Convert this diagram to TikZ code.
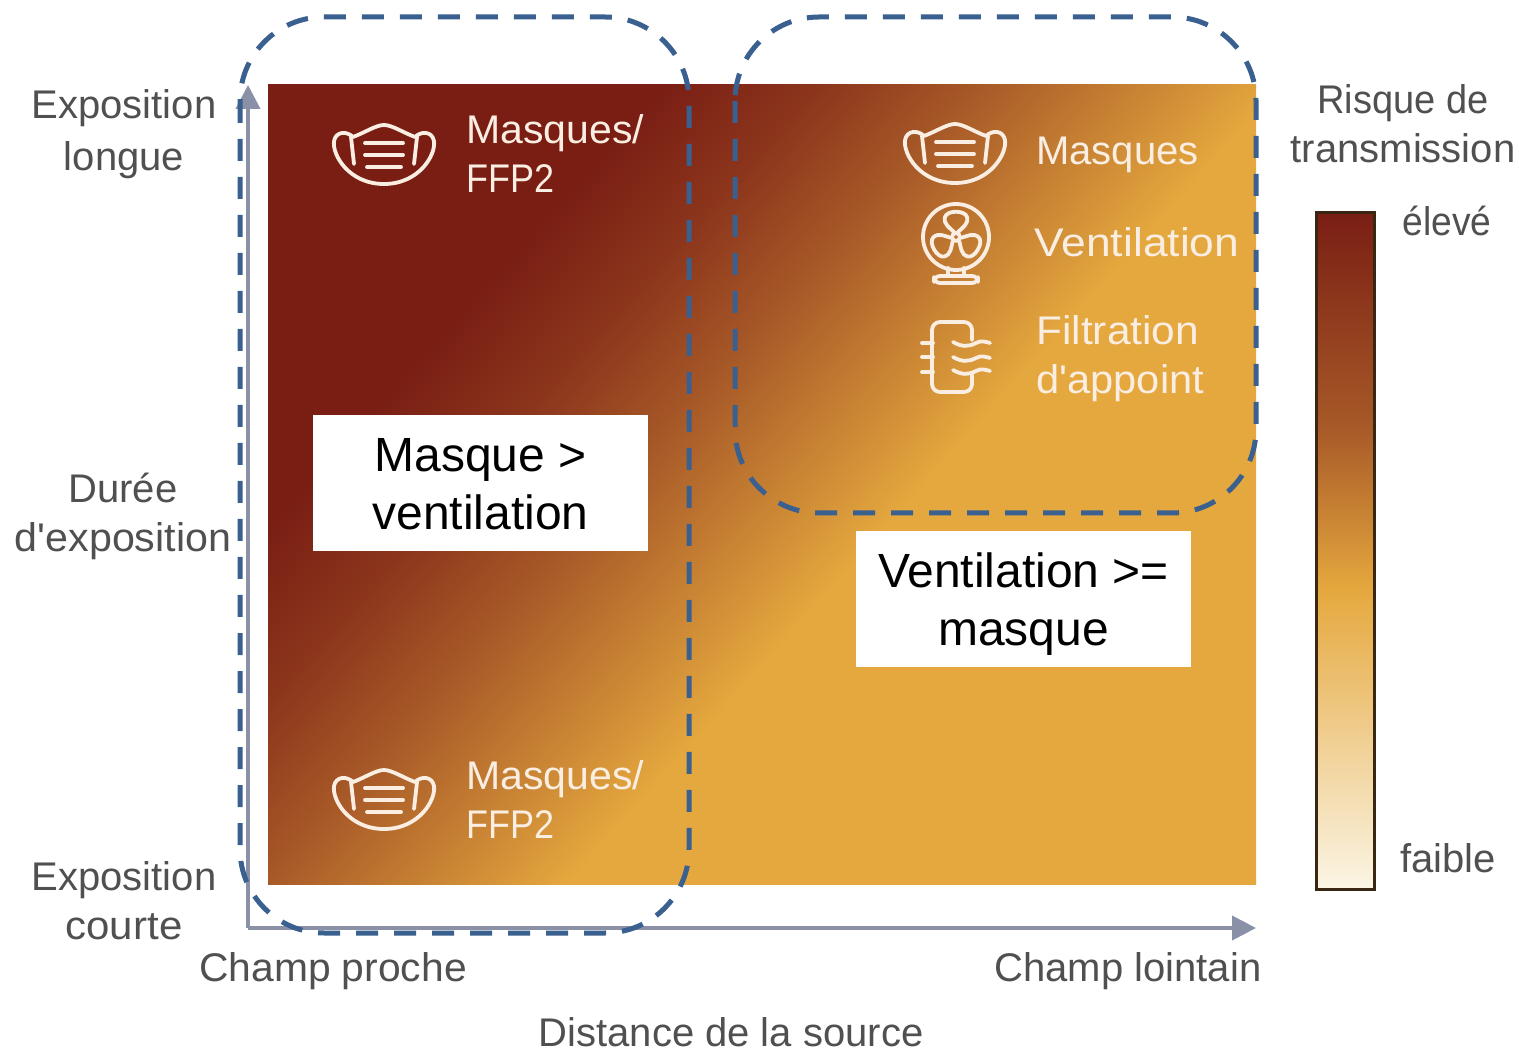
\documentclass[tikz,border=0pt]{standalone}
\usepackage{graphicx}
\usepackage{fontspec}
\setmainfont[Ligatures=TeXOff]{Liberation Sans}
\usetikzlibrary{arrows.meta}
\definecolor{darkred}{HTML}{7A1E14}
\definecolor{midbrown}{HTML}{A85A28}
\definecolor{gold}{HTML}{E5A83E}
\definecolor{paleend}{HTML}{FBF5E5}
\definecolor{labelgray}{HTML}{505050}
\definecolor{axisgray}{HTML}{8A90A6}
\definecolor{dashblue}{HTML}{3A6090}
\definecolor{iconcol}{HTML}{FAEDE2}
\pgfdeclarehorizontalshading{riskmap}{100bp}{
 color(0bp)=(darkred); color(37.86bp)=(darkred); color(42.14bp)=(darkred!60!midbrown);
 color(46.43bp)=(midbrown); color(54.36bp)=(gold); color(100bp)=(gold)}
\pgfdeclareverticalshading{legendbar}{100bp}{
 color(0bp)=(paleend); color(25bp)=(paleend); color(47.1bp)=(gold); color(59bp)=(midbrown);
 color(75bp)=(darkred); color(100bp)=(darkred)}
\newcommand{\xs}[2]{\scalebox{#1}[1]{#2}}
\tikzset{
 x=0.5pt,y=-0.5pt,
 lab/.style={text=labelgray,font=\fontsize{20}{24.5}\selectfont,align=center,inner sep=0pt},
 icontext/.style={text=iconcol,font=\fontsize{20}{24.5}\selectfont,align=left,anchor=west,inner sep=0pt},
 whitebox/.style={fill=white,text=black,font=\fontsize{24}{29}\selectfont,align=center,minimum width=167.5pt,minimum height=68pt,inner sep=0pt},
 zone/.style={draw=dashblue,line width=2.5pt,dash pattern=on 11pt off 8pt,rounded corners=42pt},
 axisline/.style={draw=axisgray,line width=2pt,-{Triangle[length=12pt,width=12pt]}},
 iconline/.style={draw=iconcol,line width=1.9pt,line cap=round,line join=round},
 maskicon/.pic={
  \draw[iconline] (-31,-18) .. controls (-20,-22) and (-8,-30) .. (0,-30) .. controls (8,-30) and (20,-22) .. (31,-18)
    .. controls (37,-24) and (48,-24) .. (50,-14) .. controls (52,0) and (35,29) .. (0,29)
    .. controls (-35,29) and (-52,0) .. (-50,-14) .. controls (-48,-24) and (-37,-24) .. (-31,-18);
  \draw[iconline] (-33,-18) -- (-30,9);
  \draw[iconline] (33,-18) -- (30,9);
  \draw[iconline] (-19,-12) -- (19,-12);
  \draw[iconline] (-19,0) -- (19,0);
  \draw[iconline] (-17,12) -- (17,12);
 },
 fanicon/.pic={
  \draw[iconline] (0,0) circle[radius=33];
  \draw[iconline] (0,0) circle[radius=4];
  \foreach \a in {0,120,240}{
   \draw[iconline,rotate=\a] (-2,-5) .. controls (-6,-9) and (-13,-13) .. (-11,-20) .. controls (-9,-27) and (9,-27) .. (11,-20) .. controls (13,-13) and (6,-9) .. (2,-5);
  }
  \draw[iconline] (-8,31) -- (-8,39);
  \draw[iconline] (8,31) -- (8,39);
  \draw[iconline,rounded corners=3pt] (-22,39) rectangle (22,46);
 },
 filtericon/.pic={
  \draw[iconline,rounded corners=4pt] (16,-17) -- (16,-35) -- (-24,-35) -- (-24,35) -- (16,35) -- (16,17);
  \draw[iconline] (-34,-14) -- (-23,-14);
  \draw[iconline] (-34,0) -- (-23,0);
  \draw[iconline] (-34,15) -- (-23,15);
  \draw[iconline] (-3,-15) .. controls (6,-10) and (12,-10) .. (20,-14) .. controls (25,-17) and (30,-15) .. (34,-14);
  \draw[iconline] (-3,0) .. controls (6,5) and (12,5) .. (20,1) .. controls (25,-2) and (30,0) .. (34,1);
  \draw[iconline] (-3,13) .. controls (6,18) and (12,18) .. (20,14) .. controls (25,11) and (30,13) .. (34,14);
 }
}
\begin{document}
\begin{tikzpicture}
\useasboundingbox[fill=white] (0,0) rectangle (1519,1052);
% heat map
\begin{scope}
 \clip (268,85) rectangle (1256,884);
 \path[shading=riskmap,shading angle=-41.8] (62,-216) rectangle (1462,1184);
\end{scope}
% axes
\coordinate (origin) at (248,928);
\coordinate (ytip) at (248,85);
\coordinate (xtip) at (1256,928);
\draw[axisline] (origin) -- (ytip);
\draw[axisline] (origin) -- (xtip);
% legend
\path[shading=legendbar] (1316,213) rectangle (1374,889);
\draw[draw=black!70!brown,line width=1.5pt] (1316,213) rectangle (1374,889);
% icons
\pic at (384,155) {maskicon};
\pic at (384,800) {maskicon};
\pic at (955,154) {maskicon};
\pic at (956,237) {fanicon};
\pic at (956,357) {filtericon};
% icon text
\node[icontext] (mf1) at (466,154) {\xs{1.025}{Masques/}\\\xs{0.9}{FFP2}};
\node[icontext] (mf2) at (466,800) {\xs{1.025}{Masques/}\\\xs{0.9}{FFP2}};
\node[icontext] (m3) at (1036,155) {Masques};
\node[icontext] (v3) at (1034,242) {\xs{1.11}{Ventilation}};
\node[icontext] (f3) at (1036,359) {\xs{1.06}{Filtration}\\\xs{1.04}{d'appoint}};
% axis labels
\node[lab] (l1) at (124,134) {Exposition\\[1.5pt]longue};
\node[lab] (l2) at (123,516) {Durée\\\xs{1.03}{d'exposition}};
\node[lab] (l3) at (124,901) {Exposition\\\xs{1.05}{courte}};
\node[lab] (l4) at (333,971) {\xs{1.02}{Champ proche}};
\node[lab] (l5) at (1128,971) {Champ lointain};
\node[lab] (l6) at (731,1032) {Distance de la source};
\node[lab] (l7) at (1403,124) {\xs{0.95}{Risque de}\\transmission};
\node[lab] (l8) at (1447,221) {\xs{0.93}{élevé}};
\node[lab] (l9) at (1448,858) {faible};
% boxes
\node[whitebox] (b1) at (480.5,483) {\rule{0pt}{18pt}Masque >\\ventilation};
\node[whitebox] (b2) at (1023.5,599) {\rule{0pt}{22pt}Ventilation >=\\masque};
% zones
\draw[zone] (240,17) rectangle (689,933);
\draw[zone] (735,17) rectangle (1256,513);
\end{tikzpicture}
\end{document}
